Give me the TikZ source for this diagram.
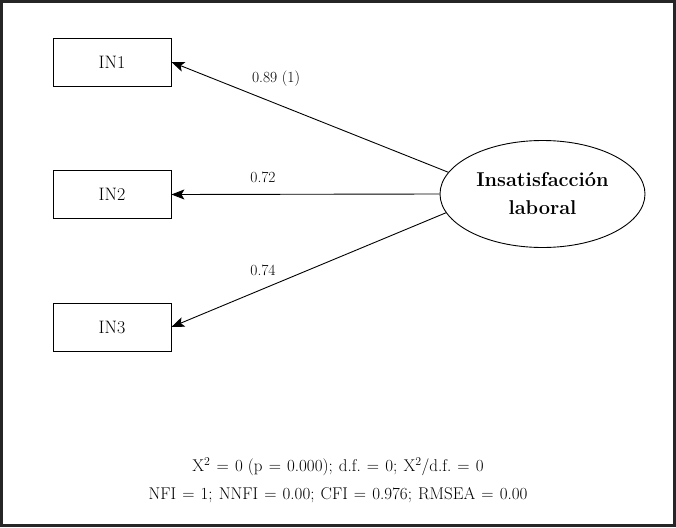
\documentclass[tikz,border=0pt]{standalone}
\usetikzlibrary{arrows.meta,shapes.geometric}
\newcommand\gp{\hspace{0.36em}}
\begin{document}
\begin{tikzpicture}[x=1pt,y=-1pt,
  obsbox/.style={draw,line width=0.8pt,minimum width=118pt,minimum height=48pt,inner sep=0pt,font=\fontsize{18}{20}\selectfont},
  latent/.style={draw,ellipse,line width=0.9pt,minimum width=205pt,minimum height=107pt,inner sep=0pt,align=center,font=\fontsize{20}{28}\selectfont\bfseries},
  path/.style={line width=0.9pt,-{Stealth[length=13pt,width=10pt,inset=3pt]}},
  lbl/.style={font=\fontsize{15.5}{18}\selectfont,inner sep=0pt},
  fit/.style={font=\fontsize{17}{28}\selectfont,align=center,inner sep=0pt}]
\useasboundingbox (0,0) rectangle (676,527);
\draw[line width=3pt,black!85] (1.5,1.5) rectangle (674.5,525.5);
\node[obsbox] (in1) at (112,62) {IN1};
\node[obsbox] (in2) at (112,194.5) {IN2};
\node[obsbox] (in3) at (112,327) {IN3};
\node[latent] (f) at (542.5,194) {Insatisfacción\\laboral};
\draw[path] (f.167.5) -- (in1.east);
\draw[path] (f.west) -- (in2.east);
\draw[path] (f.191.5) -- (in3.east);
\node[lbl] (l1) at (276,79) {0.89 (1)};
\node[lbl] (l2) at (263,177) {0.72};
\node[lbl] (l3) at (263,270) {0.74};
\node[fit] (stats) at (338,480) {X\textsuperscript{2}\gp=\gp0 (p\gp=\gp0.000);\gp d.f.\gp=\gp0;\gp X\textsuperscript{2}/d.f.\gp=\gp0\\
NFI\gp=\gp1;\gp NNFI\gp=\gp0.00;\gp CFI\gp=\gp0.976;\gp RMSEA\gp=\gp0.00};
\end{tikzpicture}
\end{document}
